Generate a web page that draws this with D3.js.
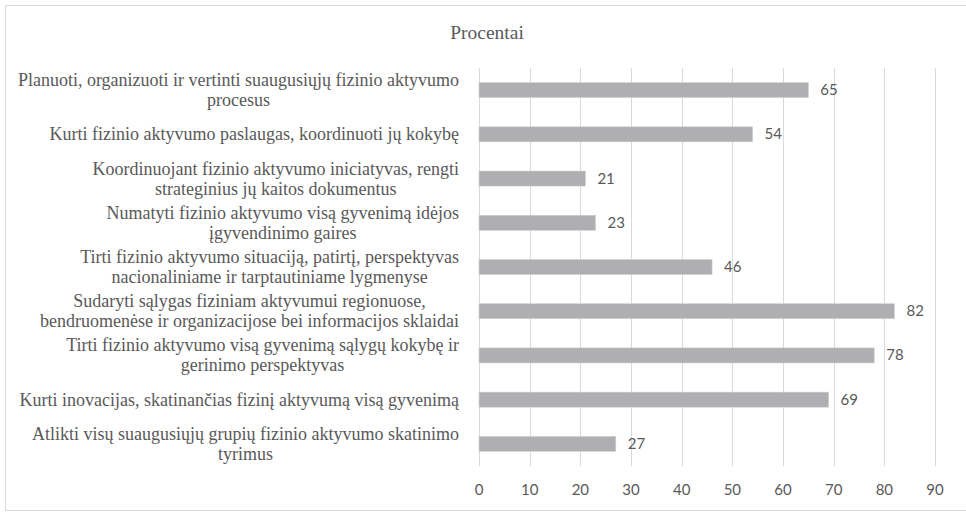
<!DOCTYPE html>
<html>
<head>
<meta charset="utf-8">
<script src="https://cdnjs.cloudflare.com/ajax/libs/d3/7.8.5/d3.min.js"></script>
<style>
  body { margin: 0; background: #fff; }
  svg { display: block; }
</style>
</head>
<body>
<div id="chart"></div>
<script>
// chart data, top to bottom
var categories = [
    ["Planuoti, organizuoti ir vertinti suaugusiųjų fizinio aktyvumo", "procesus"],
    ["Kurti fizinio aktyvumo paslaugas, koordinuoti jų kokybę"],
    ["Koordinuojant fizinio aktyvumo iniciatyvas, rengti", "strateginius jų kaitos dokumentus"],
    ["Numatyti fizinio aktyvumo visą gyvenimą idėjos", "įgyvendinimo gaires"],
    ["Tirti fizinio aktyvumo situaciją, patirtį, perspektyvas", "nacionaliniame ir tarptautiniame lygmenyse"],
    ["Sudaryti sąlygas fiziniam aktyvumui regionuose,", "bendruomenėse ir organizacijose bei informacijos sklaidai"],
    ["Tirti fizinio aktyvumo visą gyvenimą sąlygų kokybę ir", "gerinimo perspektyvas"],
    ["Kurti inovacijas, skatinančias fizinį aktyvumą visą gyvenimą"],
    ["Atlikti visų suaugusiųjų grupių fizinio aktyvumo skatinimo", "tyrimus"]
];
var values = [65, 54, 21, 23, 46, 82, 78, 69, 27];
var xTicks = [0, 10, 20, 30, 40, 50, 60, 70, 80, 90];
var title = "Procentai";

var width = 966, height = 512;
var plot = {left: 479, right: 935, top: 68, bottom: 466};

var svg = d3.select("#chart").append("svg")
    .attr("width", width)
    .attr("height", height);

// outer frame
svg.append("rect")
    .attr("x", 5.5).attr("y", 5.5)
    .attr("width", 970).attr("height", 505)
    .attr("fill", "#fff")
    .attr("stroke", "#d9d9d9");

var x = d3.scaleLinear()
    .domain([0, 90])
    .range([plot.left, plot.right]);

var y = d3.scaleBand()
    .domain(d3.range(categories.length))
    .range([plot.top, plot.bottom])
    .paddingInner(0.66)
    .paddingOuter(0.33);

svg.append("text")
    .attr("x", 487).attr("y", 39)
    .attr("text-anchor", "middle")
    .style("font-family", "'Liberation Serif', 'Times New Roman', serif")
    .style("font-size", "19.5px")
    .style("fill", "#595959")
    .text(title);

// gridlines
svg.append("g")
    .selectAll("line")
    .data(xTicks)
    .enter().append("line")
    .attr("x1", function(d) { return Math.round(x(d)) + 0.5; })
    .attr("x2", function(d) { return Math.round(x(d)) + 0.5; })
    .attr("y1", plot.top)
    .attr("y2", plot.bottom)
    .attr("stroke", "#d9d9d9")
    .attr("stroke-width", 1);

// x tick labels
svg.append("g")
    .selectAll("text")
    .data(xTicks)
    .enter().append("text")
    .attr("x", function(d) { return x(d); })
    .attr("y", 495)
    .attr("text-anchor", "middle")
    .style("font-family", "Lato, 'Open Sans', sans-serif")
    .style("font-size", "15px")
    .style("fill", "#595959")
    .text(function(d) { return d; });

// bars
svg.append("g")
    .selectAll("rect")
    .data(values)
    .enter().append("rect")
    .attr("x", x(0))
    .attr("y", function(d, i) { return y(i); })
    .attr("width", function(d) { return x(d) - x(0); })
    .attr("height", y.bandwidth())
    .attr("fill", "#afafb1")
    .attr("stroke", "#d0d0d2")
    .attr("stroke-width", 0.6);

// value labels
svg.append("g")
    .selectAll("text")
    .data(values)
    .enter().append("text")
    .attr("x", function(d) { return x(d) + 12; })
    .attr("y", function(d, i) { return y(i) + y.bandwidth() / 2 + 5; })
    .style("font-family", "Lato, 'Open Sans', sans-serif")
    .style("font-size", "15px")
    .style("fill", "#595959")
    .text(function(d) { return d; });

// category labels, centred block whose right edge sits at 459
var labelRight = 459, lineH = 20;
var labels = svg.append("g")
    .selectAll("text")
    .data(categories)
    .enter().append("text")
    .style("font-family", "'Liberation Serif', 'Times New Roman', serif")
    .style("font-size", "18px")
    .style("fill", "#595959")
    .attr("text-anchor", "middle");

labels.each(function(lines, i) {
    var t = d3.select(this);
    var cy = y(i) + y.bandwidth() / 2;
    var spans = t.selectAll("tspan")
        .data(lines)
        .enter().append("tspan")
        .attr("y", function(d, j) { return cy + 6 + (j - (lines.length - 1) / 2) * lineH; })
        .text(function(d) { return d; });
    var maxW = 0;
    spans.each(function() { maxW = Math.max(maxW, this.getComputedTextLength()); });
    spans.attr("x", labelRight - maxW / 2);
});
</script>
</body>
</html>
